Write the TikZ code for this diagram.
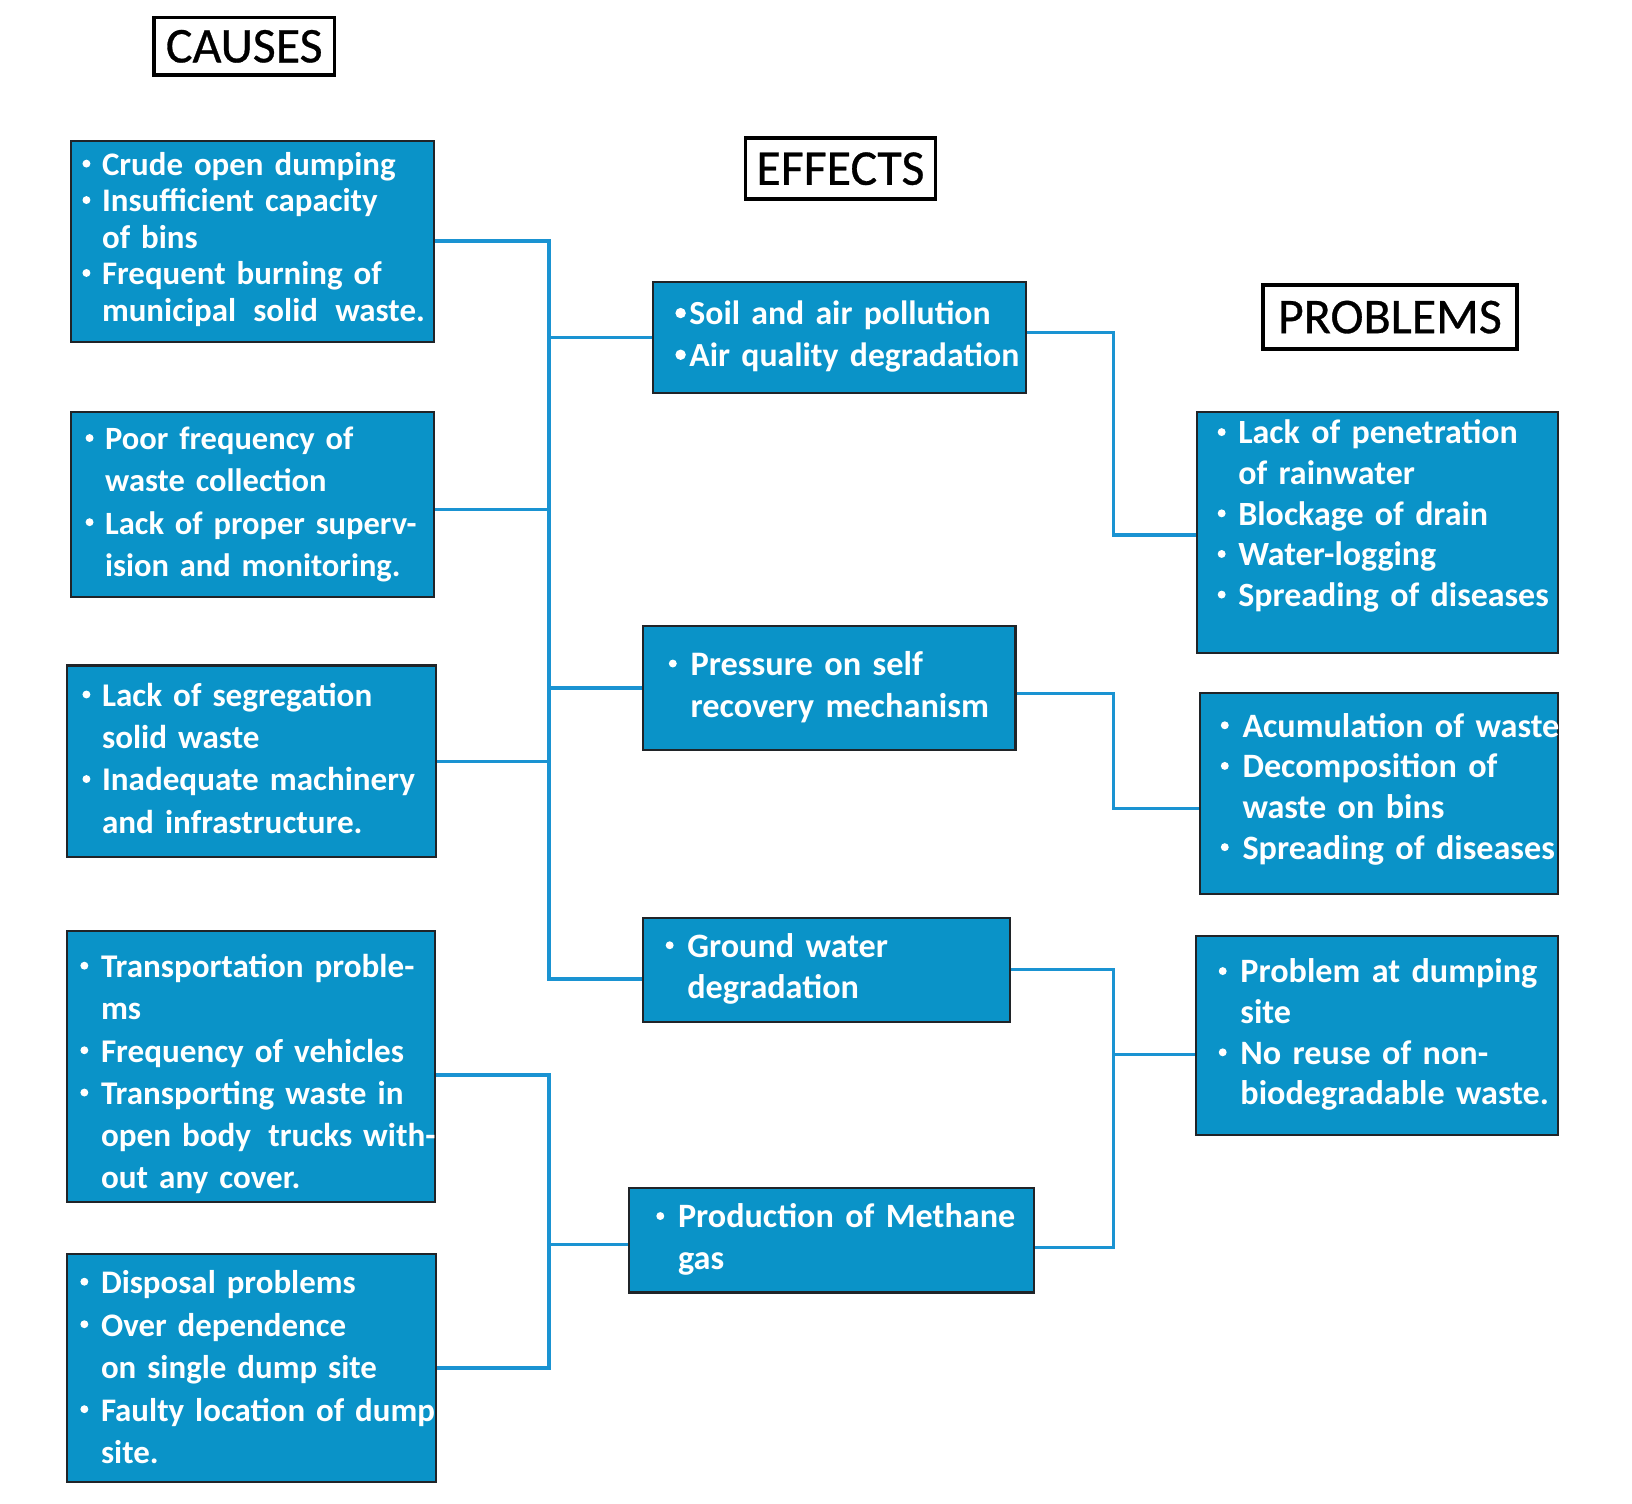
\documentclass[tikz,border=0pt]{standalone}
\usepackage{fontspec}
\setmainfont{Carlito}
\newfontfamily\titlefont[FakeBold=0.6]{Carlito}
\definecolor{boxblue}{HTML}{0A93C8}
\definecolor{connblue}{HTML}{1A93D2}
\definecolor{boxline}{HTML}{202428}
\newcommand\setoff[2]{\def\offA{#1}\def\offB{#2}}
\def\bulr{1.9pt}
\newcommand\bdot{\tikz[baseline=0pt]\fill[white] (\bulr,5.7pt) circle[radius=\bulr];}
\newcommand\bl[1]{\mbox{\strut\hspace*{\offA}\hbox to \dimexpr\offB-\offA\relax{\bdot\hss}#1}}
\newcommand\cl[1]{\mbox{\strut\hspace*{\offB}#1}}
\tikzset{
  bluebox/.style 2 args={draw=boxline, line width=1pt, fill=boxblue, text=white,
    inner sep=0pt, align=left, anchor=north west,
    font=\bfseries\fontsize{#1}{#2}\selectfont},
  titlebox/.style={draw=black, line width=1.75pt, fill=white, text=black,
    inner sep=0pt, font=\titlefont\fontsize{24}{28}\selectfont},
  conn/.style={draw=connblue, line width=1.65pt}
}
\begin{document}
\begin{tikzpicture}[x=0.5pt,y=-0.5pt]
\useasboundingbox (0,0) rectangle (1567,1444);
% titles
\node[titlebox, minimum width=86.75pt, minimum height=27.75pt] (causes) at (234.5,44.5) {CAUSES};
\node[titlebox, minimum width=91.25pt, minimum height=29.25pt] (effects) at (807,162) {EFFECTS};
\node[titlebox, minimum width=121.75pt, minimum height=30.75pt] (problems) at (1334.5,304.5) {PROBLEMS};
% causes
\node[bluebox={15.8}{17.5}, text width=174.5pt, minimum height=96.5pt] (c1) at (67,134) {\setoff{5.6pt}{15pt}%
\bl{Crude open dumping}\\
\bl{Insufficient capacity}\\
\cl{of bins}\\
\bl{Frequent burning of}\\
\cl{municipal\hspace{3pt} solid\hspace{3pt} waste.}};
\node[bluebox={15.6}{20.2}, text width=174.5pt, minimum height=88.5pt] (c2) at (67,395) {\setoff{7.1pt}{16.5pt}%
\bl{Poor frequency of}\\
\cl{waste collection}\\
\bl{Lack of proper superv-}\\
\cl{ision and monitoring.}};
\node[bluebox={15.9}{20.3}, text width=177.5pt, minimum height=92pt] (c3) at (63,638) {\setoff{7.6pt}{17pt}%
\bl{Lack of segregation}\\
\cl{solid waste}\\
\bl{Inadequate machinery}\\
\cl{and infrastructure.}};
\node[bluebox={15.9}{20.3}, text width=177pt, minimum height=130pt] (c4) at (63,893) {\setoff{6.6pt}{16.5pt}%
\strut\\[-12.3pt]
\bl{Transportation proble-}\\
\cl{ms}\\
\bl{Frequency of vehicles}\\
\bl{Transporting waste in}\\
\cl{open body\hspace{3pt} trucks with-}\\
\cl{out any cover.}};
\node[bluebox={15.8}{20.4}, text width=177.5pt, minimum height=109.5pt] (c5) at (63,1203) {\setoff{6.6pt}{16.5pt}%
\strut\\[-18.4pt]
\bl{Disposal problems}\\
\bl{Over dependence}\\
\cl{on single dump site}\\
\bl{Faulty location of dump}\\
\cl{site.}};
% effects
\node[bluebox={16.2}{20}, text width=179pt, minimum height=53pt] (e1) at (626,270) {\def\bulr{2.5pt}\setoff{10.75pt}{17.5pt}%
\bl{Soil and air pollution}\\
\bl{Air quality degradation}};
\node[bluebox={16.5}{20}, text width=179pt, minimum height=59.5pt] (e2) at (616,600) {\setoff{12.6pt}{23pt}%
\bl{Pressure on self}\\
\cl{recovery mechanism}};
\node[bluebox={16.4}{20}, text width=176.5pt, minimum height=50pt] (e3) at (616,880) {\setoff{11.1pt}{21.5pt}%
\bl{Ground water}\\
\cl{degradation}};
\node[bluebox={16.4}{20}, text width=194.5pt, minimum height=50pt] (e4) at (603,1140) {\setoff{13.1pt}{23.5pt}%
\bl{Production of Methane}\\
\cl{gas}};
% problems
\node[bluebox={16.3}{19.5}, text width=173.5pt, minimum height=115.5pt] (p1) at (1148,395) {\setoff{10.1pt}{20pt}%
\bl{Lack of penetration}\\
\cl{of rainwater}\\
\bl{Blockage of drain}\\
\bl{Water-logging}\\
\bl{Spreading of diseases}\\[-4.5pt]\strut};
\node[bluebox={16.4}{19.5}, text width=172pt, minimum height=96.5pt] (p2) at (1151,664) {\setoff{10.1pt}{20.5pt}%
\bl{Acumulation of waste}\\
\bl{Decomposition of}\\
\cl{waste on bins}\\
\bl{Spreading of diseases}\\[-16.5pt]\strut};
\node[bluebox={16.4}{19.5}, text width=174pt, minimum height=95.5pt] (p3) at (1147,898) {\setoff{11.1pt}{21.5pt}%
\bl{Problem at dumping}\\
\cl{site}\\
\bl{No reuse of non-}\\
\cl{biodegradable waste.}};
% bus coordinates
\coordinate (busA) at (527,0);
\coordinate (busC) at (1069,0);
\coordinate (c2e) at ([yshift=-2.25pt]c2.east);
\coordinate (c4e) at ([yshift=-4pt]c4.east);
\coordinate (e3w) at ([yshift=-4.5pt]e3.west);
\coordinate (e4w) at ([yshift=-2pt]e4.west);
\coordinate (e1e) at ([yshift=2.5pt]e1.east);
\coordinate (e2e) at ([yshift=-2.75pt]e2.east);
\coordinate (e4e) at ([yshift=-3.5pt]e4.east);
\coordinate (p1w) at ([yshift=-1pt]p1.west);
\coordinate (p2w) at ([yshift=-7.5pt]p2.west);
\coordinate (p3w) at ([yshift=-9pt]p3.west);
% causes -> effects (top group)
\draw[conn] (c1.east) -- (c1.east -| busA) -- (busA |- e3w) -- (e3w);
\draw[conn] (c2e) -- (c2e -| busA);
\draw[conn] (c3.east) -- (c3.east -| busA);
\draw[conn] (busA |- e1.west) -- (e1.west);
\draw[conn] (busA |- e2.west) -- (e2.west);
% causes -> effects (bottom group)
\draw[conn] (c4e) -- (c4e -| busA) -- (busA |- c5.east) -- (c5.east);
\draw[conn] (busA |- e4w) -- (e4w);
% effects -> problems
\draw[conn] (e1e) -- (e1e -| busC) -- (busC |- p1w) -- (p1w);
\draw[conn] (e2e) -- (e2e -| busC) -- (busC |- p2w) -- (p2w);
\draw[conn] (e3.east) -- (e3.east -| busC) -- (busC |- e4e) -- (e4e);
\draw[conn] (busC |- p3w) -- (p3w);
\end{tikzpicture}
\end{document}
